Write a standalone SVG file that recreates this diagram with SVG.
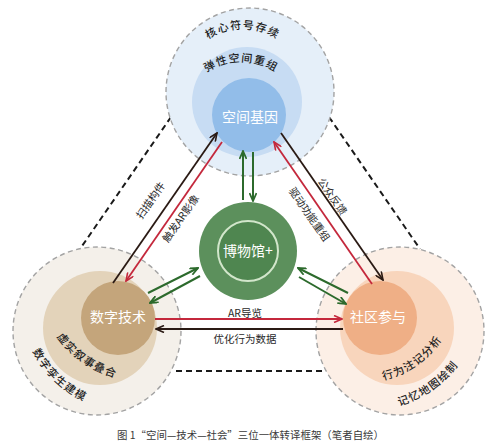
<svg xmlns="http://www.w3.org/2000/svg" width="500" height="448" viewBox="0 0 500 448">
<defs>
<style>
.ring{stroke:#a3a3a3;stroke-width:1.4;stroke-dasharray:5 3.5}
.tri{stroke:#1a1a1a;stroke-width:2;stroke-dasharray:6 4;fill:none}
.t{font-family:"Noto Sans CJK SC","Noto Sans",sans-serif}
.big{font-size:14px;fill:#ffffff;text-anchor:middle;dominant-baseline:central}
.arc{font-size:11px;fill:#1e1e1e;font-weight:500;letter-spacing:1.2px}
.lbl{font-size:10.5px;fill:#2a2a2a;text-anchor:middle;dominant-baseline:central}
.k{stroke:#2a1a14;stroke-width:1.8;fill:none}
.r{stroke:#c4283c;stroke-width:1.8;fill:none}
.g{stroke:#2c6a2c;stroke-width:2;fill:none}
</style>
<marker id="ak" viewBox="0 0 10 8" refX="9" refY="4" markerWidth="10" markerHeight="8" markerUnits="userSpaceOnUse" orient="auto"><path d="M1,0.5 L9,4 L1,7.5" fill="none" stroke="#2a1a14" stroke-width="1.6"/></marker>
<marker id="ar" viewBox="0 0 10 8" refX="9" refY="4" markerWidth="10" markerHeight="8" markerUnits="userSpaceOnUse" orient="auto"><path d="M1,0.5 L9,4 L1,7.5" fill="none" stroke="#c4283c" stroke-width="1.6"/></marker>
<marker id="ag" viewBox="0 0 10 8" refX="9" refY="4" markerWidth="10" markerHeight="8" markerUnits="userSpaceOnUse" orient="auto"><path d="M1,0.5 L9,4 L1,7.5" fill="none" stroke="#2c6a2c" stroke-width="1.8"/></marker>
<path id="pTopOuter" d="M178.5,93 A64,64 0 0 1 306.5,93"/>
<path id="pTopMid" d="M177,126 A64,64 0 0 1 305,126"/>
<path id="pLeftMid" d="M50.6,327.5 A109,109 0 0 0 126.1,380.3"/>
<path id="pLeftOuter" d="M28.4,341.7 A108,108 0 0 0 94,405.1"/>
<path id="pRightMid" d="M379.1,381 A94,94 0 0 0 444.2,335.4"/>
<path id="pRightOuter" d="M391.3,407.7 A114,114 0 0 0 463.2,358.3"/>
</defs>
<rect width="500" height="448" fill="#ffffff"/>

<g id="triangle">
<line class="tri" x1="171" y1="117" x2="80" y2="249"/>
<line class="tri" x1="329" y1="117" x2="420" y2="249"/>
<line class="tri" x1="176" y1="371" x2="324" y2="371"/>
</g>

<g id="node-space">
<circle class="ring" cx="250" cy="92" r="84" fill="#e5eff9"/>
<circle cx="247" cy="102" r="55" fill="#c7dcf3"/>
<circle cx="249" cy="115" r="37" fill="#92bde9"/>
<text class="t arc"><textPath href="#pTopOuter" startOffset="50%" text-anchor="middle">核心符号存续</textPath></text>
<text class="t arc"><textPath href="#pTopMid" startOffset="50%" text-anchor="middle">弹性空间重组</textPath></text>
<text class="t big" x="250" y="116">空间基因</text>
</g>

<g id="node-tech">
<circle class="ring" cx="97" cy="331" r="84" fill="#f4f0ea"/>
<circle cx="100" cy="328" r="57" fill="#e3d3ba"/>
<circle cx="118" cy="318" r="37" fill="#c4a57b"/>
<text class="t arc"><textPath href="#pLeftMid" startOffset="50%" text-anchor="middle">虚实叙事叠合</textPath></text>
<text class="t arc"><textPath href="#pLeftOuter" startOffset="50%" text-anchor="middle">数字孪生建模</textPath></text>
<text class="t big" x="118" y="316">数字技术</text>
</g>

<g id="node-society">
<circle class="ring" cx="400" cy="331" r="84" fill="#fcefe6"/>
<circle cx="397" cy="328" r="57" fill="#f8d5bc"/>
<circle cx="380" cy="318" r="37" fill="#efaf86"/>
<text class="t arc"><textPath href="#pRightMid" startOffset="50%" text-anchor="middle">行为注记分析</textPath></text>
<text class="t arc"><textPath href="#pRightOuter" startOffset="50%" text-anchor="middle">记忆地图绘制</textPath></text>
<text class="t big" x="378" y="316">社区参与</text>
</g>

<g id="node-museum">
<circle cx="248" cy="251" r="49" fill="#5c905c"/>
<circle cx="248" cy="251" r="30" fill="#4f8650" stroke="#d2e6cb" stroke-width="2"/>
<text class="t big" x="248" y="250">博物馆+</text>
</g>

<g id="connectors">
<line class="k" x1="113" y1="283" x2="217" y2="133" marker-end="url(#ak)"/>
<line class="r" x1="222" y1="142" x2="126" y2="281" marker-end="url(#ar)"/>
<line class="k" x1="281" y1="133" x2="383" y2="280" marker-end="url(#ak)"/>
<line class="r" x1="372" y1="284" x2="274" y2="142" marker-end="url(#ar)"/>
<line class="g" x1="243" y1="200" x2="243" y2="151" marker-end="url(#ag)"/>
<line class="g" x1="253" y1="152" x2="253" y2="201" marker-end="url(#ag)"/>
<line class="g" x1="148" y1="293" x2="198" y2="268" marker-end="url(#ag)"/>
<line class="g" x1="200" y1="276" x2="150" y2="303" marker-end="url(#ag)"/>
<line class="g" x1="348" y1="293" x2="298" y2="268" marker-end="url(#ag)"/>
<line class="g" x1="299" y1="277" x2="346" y2="304" marker-end="url(#ag)"/>
<line class="r" x1="155" y1="319" x2="342" y2="319" marker-end="url(#ar)"/>
<line class="k" x1="343" y1="329" x2="156" y2="329" marker-end="url(#ak)"/>
</g>

<g id="labels">
<text class="t lbl" transform="translate(150,200) rotate(-55)">扫描构件</text>
<text class="t lbl" transform="translate(180,218) rotate(-55)">触发AR影像</text>
<text class="t lbl" transform="translate(333,196) rotate(55)">公众反馈</text>
<text class="t lbl" transform="translate(310,214) rotate(55)">驱动功能重组</text>
<text class="t lbl" x="245" y="312">AR导览</text>
<text class="t lbl" x="245" y="338">优化行为数据</text>
</g>

<text id="caption" x="117" y="439" font-family="'Noto Sans CJK SC','Noto Sans',sans-serif" font-size="10.5" fill="#3a3a3a" textLength="267" lengthAdjust="spacingAndGlyphs">图 1“空间—技术—社会”三位一体转译框架（笔者自绘）</text>
</svg>
